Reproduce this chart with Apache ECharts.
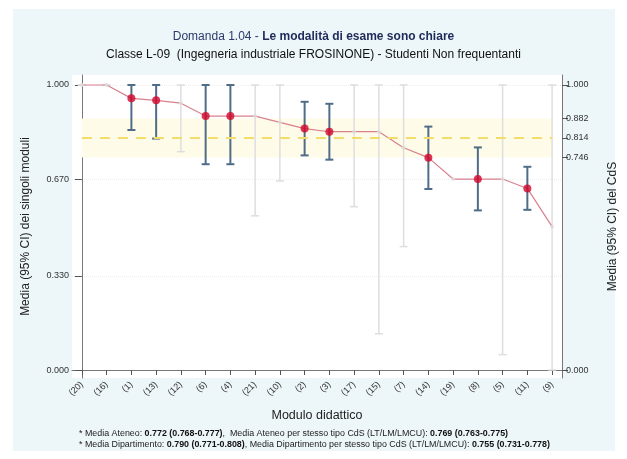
<!DOCTYPE html>
<html>
<head>
<meta charset="utf-8">
<script src="https://cdn.jsdelivr.net/npm/echarts@6/dist/echarts.min.js"></script>
<style>
  html, body { margin: 0; padding: 0; background: #fff; }
  #chart { width: 627px; height: 459px; }
</style>
</head>
<body>
<div id="chart"></div>
<script>
/* ---------- data ---------- */
const categories = ["(20)", "(16)", "(1)", "(13)", "(12)", "(6)", "(4)", "(21)", "(10)", "(2)",
  "(3)", "(17)", "(15)", "(7)", "(14)", "(19)", "(8)", "(5)", "(11)", "(9)"];
const means = [1.000, 1.000, 0.953, 0.946, 0.936, 0.891, 0.891, 0.891, 0.869, 0.847,
  0.836, 0.836, 0.836, 0.780, 0.745, 0.670, 0.670, 0.670, 0.637, 0.503];
const lower = [1.000, 1.000, 0.842, 0.812, 0.766, 0.722, 0.722, 0.541, 0.663, 0.753,
  0.738, 0.573, 0.127, 0.433, 0.635, null, 0.560, 0.054, 0.562, 0.000];
const upper = [1.000, 1.000, 1.000, 1.000, 1.000, 1.000, 1.000, 1.000, 1.000, 0.941,
  0.934, 1.000, 1.000, 1.000, 0.854, null, 0.781, 1.000, 0.713, 1.000];
// 1 = modulo con abbastanza risposte (punto rosso + IC blu), 0 = grigio
const highlighted = [0, 0, 1, 1, 0, 1, 1, 0, 0, 1, 1, 0, 0, 0, 1, 0, 1, 0, 1, 0];

const cdsMean = 0.814, cdsLow = 0.746, cdsHigh = 0.882;
const leftTicks = [0, 0.33, 0.67, 1];
const rightTicks = [0, cdsLow, cdsMean, cdsHigh, 1];

/* ---------- helpers ---------- */
const FONT = "Liberation Sans, Arial, Helvetica, sans-serif";
const idx = categories.map((_, i) => i);

function ciData(flag) {
  return idx
    .filter((i) => highlighted[i] === flag && lower[i] != null)
    .map((i) => [i, lower[i], upper[i]]);
}

function ciRenderer(color, width) {
  return function (params, api) {
    const x = api.value(0);
    const lo = api.coord([x, api.value(1)]);
    const hi = api.coord([x, api.value(2)]);
    const cap = 4;
    const style = { stroke: color, lineWidth: width };
    return {
      type: "group",
      children: [
        { type: "line", shape: { x1: lo[0], y1: lo[1], x2: hi[0], y2: hi[1] }, style },
        { type: "line", shape: { x1: hi[0] - cap, y1: hi[1], x2: hi[0] + cap, y2: hi[1] }, style },
        { type: "line", shape: { x1: lo[0] - cap, y1: lo[1], x2: lo[0] + cap, y2: lo[1] }, style },
      ],
    };
  };
}

const chart = echarts.init(document.getElementById("chart"), null, { renderer: "canvas" });

chart.setOption({
  animation: false,
  backgroundColor: "#fff",
  textStyle: { fontFamily: FONT },
  graphic: [
    { type: "rect", z: -10, shape: { x: 13, y: 9, width: 602, height: 442 }, style: { fill: "#edf6f9" } },
  ],
  title: [
    {
      left: "center", top: 26,
      text: "{n|Domanda 1.04 - }{b|Le modalità di esame sono chiare}",
      textStyle: {
        fontWeight: "normal",
        rich: {
          n: { fontFamily: FONT, fontSize: 12, fontWeight: "normal", color: "#2b3a6b" },
          b: { fontFamily: FONT, fontSize: 12, fontWeight: "bold", color: "#1f2a5a" },
        },
      },
    },
    {
      left: "center", top: 44,
      text: "Classe L-09  (Ingegneria industriale FROSINONE) - Studenti Non frequentanti",
      textStyle: { fontFamily: FONT, fontSize: 12, fontWeight: "normal", color: "#111" },
    },
    {
      left: 74, top: 423,
      text:
        "{n|* Media Ateneo: }{b|0.772 (0.768-0.777)}{n|,  Media Ateneo per stesso tipo CdS (LT/LM/LMCU): }{b|0.769 (0.763-0.775)}\n" +
        "{n|* Media Dipartimento: }{b|0.790 (0.771-0.808)}{n|, Media Dipartimento per stesso tipo CdS (LT/LM/LMCU): }{b|0.755 (0.731-0.778)}",
      textStyle: {
        fontWeight: "normal",
        lineHeight: 11,
        rich: {
          n: { fontFamily: FONT, fontSize: 8.9, fontWeight: "normal", color: "#222", lineHeight: 11 },
          b: { fontFamily: FONT, fontSize: 8.9, fontWeight: "bold", color: "#111", lineHeight: 11 },
        },
      },
    },
  ],
  grid: {
    left: 72, right: 65, top: 75, bottom: 81,
    show: true, backgroundColor: "#fff", borderWidth: 0,
  },
  xAxis: {
    type: "value",
    min: -0.4, max: 19.4,
    name: "Modulo didattico",
    nameLocation: "middle",
    nameGap: 31,
    nameTextStyle: { fontFamily: FONT, fontSize: 12.5, color: "#222" },
    axisLine: { show: true, lineStyle: { color: "#777", width: 1 } },
    axisTick: { show: true, customValues: idx, length: 5, lineStyle: { color: "#555" } },
    axisLabel: {
      customValues: idx,
      formatter: (v) => categories[Math.round(v)],
      rotate: 45, fontSize: 9, color: "#333", margin: 5,
    },
    splitLine: { show: false },
  },
  yAxis: [
    {
      type: "value",
      min: -0.028, max: 1.035,
      position: "left",
      name: "Media (95% CI) dei singoli moduli",
      nameLocation: "middle",
      nameGap: 40,
      nameTextStyle: { fontFamily: FONT, fontSize: 12, color: "#222" },
      axisLine: { show: true, lineStyle: { color: "#777", width: 1 } },
      axisTick: { show: true, customValues: leftTicks, length: 7, lineStyle: { color: "#555" } },
      axisLabel: { customValues: leftTicks, formatter: (v) => v.toFixed(3), fontSize: 9, color: "#333", margin: 3 },
      splitLine: { show: true, lineStyle: { color: "#ececec", type: "dotted" } },
    },
    {
      type: "value",
      min: -0.028, max: 1.035,
      position: "right",
      name: "Media (95% CI) del CdS",
      nameLocation: "middle",
      nameGap: 45,
      nameTextStyle: { fontFamily: FONT, fontSize: 12, color: "#222" },
      axisLine: { show: true, lineStyle: { color: "#777", width: 1 } },
      axisTick: { show: true, customValues: rightTicks, length: 6, lineStyle: { color: "#555" } },
      axisLabel: { customValues: rightTicks, formatter: (v) => v.toFixed(3), fontSize: 9, color: "#333", margin: 4 },
      splitLine: { show: false },
    },
  ],
  series: [
    {
      // banda CdS (IC 95%) e media
      type: "line",
      data: [],
      silent: true,
      markArea: {
        silent: true,
        itemStyle: { color: "#fefce8" },
        data: [[{ xAxis: 0, yAxis: cdsLow }, { xAxis: categories.length - 1, yAxis: cdsHigh }]],
      },
      markLine: {
        silent: true,
        symbol: "none",
        label: { show: false },
        lineStyle: { color: "#f2dd6a", type: [10, 8], width: 1.8 },
        data: [[{ coord: [0, cdsMean] }, { coord: [categories.length - 1, cdsMean] }]],
      },
    },
    {
      type: "custom",
      renderItem: ciRenderer("#dedede", 1.5),
      encode: { x: 0, y: [1, 2] },
      data: ciData(0),
      z: 2,
    },
    {
      type: "line",
      data: idx.map((i) => [i, means[i]]),
      showSymbol: false,
      lineStyle: { color: "#d9808d", width: 1.2 },
      z: 3,
    },
    {
      type: "custom",
      renderItem: ciRenderer("#4f6c88", 2),
      encode: { x: 0, y: [1, 2] },
      data: ciData(1),
      z: 4,
    },
    {
      type: "scatter",
      data: idx.filter((i) => !highlighted[i]).map((i) => [i, means[i]]),
      symbolSize: 4,
      itemStyle: { color: "#dddddd" },
      z: 5,
    },
    {
      type: "scatter",
      data: idx.filter((i) => highlighted[i]).map((i) => [i, means[i]]),
      symbolSize: 8,
      itemStyle: { color: "#d4062a" },
      z: 6,
    },
  ],
});
</script>
</body>
</html>
